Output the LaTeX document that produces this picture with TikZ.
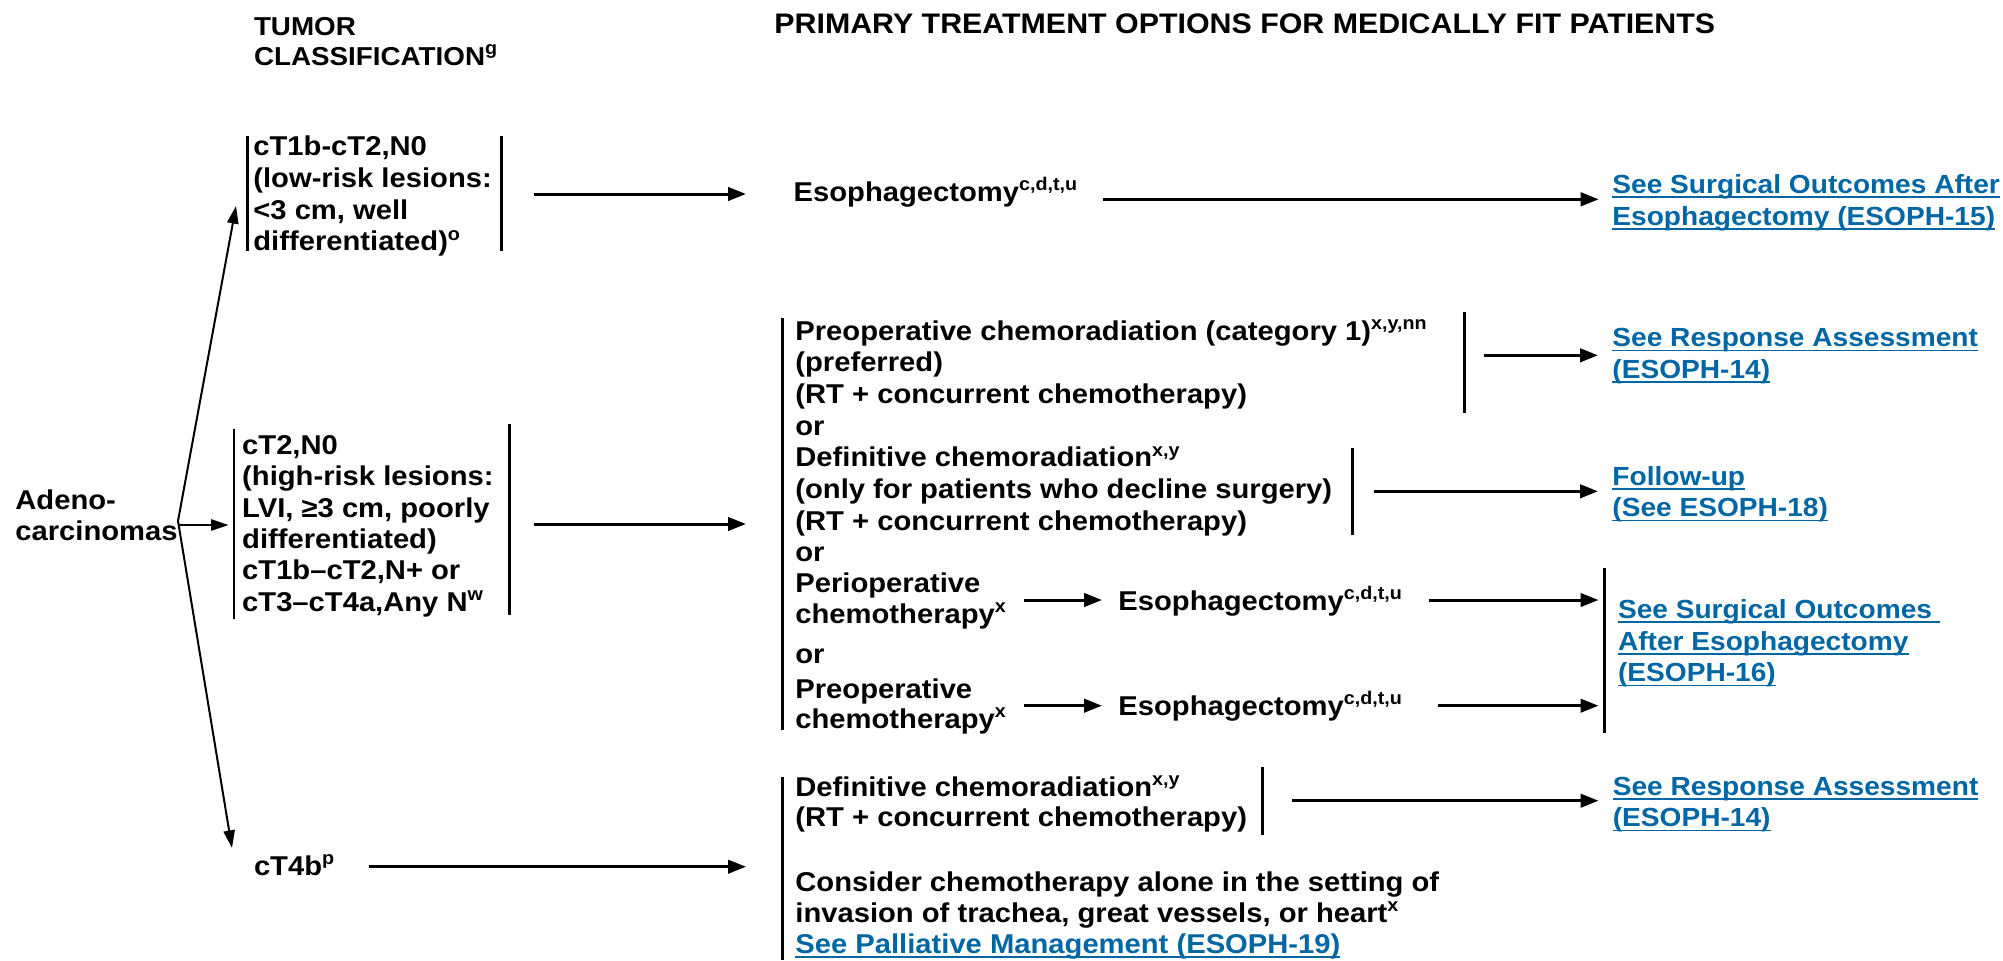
\documentclass[tikz,border=0pt]{standalone}
\usepackage{fontspec}
\setmainfont{Liberation Sans}[FakeStretch=1.073]
\usetikzlibrary{arrows.meta}
\definecolor{linkblue}{RGB}{0,102,164}
\newcommand\bodyfont{\fontsize{13.6}{15.85}\selectfont\bfseries}
\newcommand\linkfont{\fontsize{13.1}{15.85}\selectfont\bfseries}
\newcommand\sps[1]{\smash{\raisebox{5.4pt}{\fontsize{9.2}{9.2}\selectfont #1}}}
\newcommand\mlines[2][1]{{\renewcommand\arraystretch{#1}\begin{tabular}[t]{@{}l@{}}#2\end{tabular}}}
\newcommand\ulink[1]{\setbox0=\hbox{#1}\rlap{\rule[-2.3pt]{\wd0}{0.9pt}}\box0}
\begin{document}
\begin{tikzpicture}[x=0.5pt,y=-0.5pt,
  every node/.style={inner sep=0pt,anchor=base west,font=\bodyfont},
  link/.style={text=linkblue,font=\linkfont},
  bar/.style={line width=1.4pt},
  arr/.style={line width=1.5pt,-{Triangle[length=9pt,width=6.7pt]}},
  thin/.style={line width=1pt,-{Triangle[length=8.8pt,width=5.6pt]}}]
\useasboundingbox (0,0) rectangle (2003,960);
% headings
\node (hTum) at (253.6,35) {\fontsize{12.95}{15}\selectfont\mlines{TUMOR\\CLASSIFICATION\sps{g}}};
\node (hPrim) at (774,33.3) {\fontsize{14.15}{15}\selectfont PRIMARY TREATMENT OPTIONS FOR MEDICALLY FIT PATIENTS};
% left column
\node (adeno) at (15,509.8) {\mlines[0.978]{Adeno-\\carcinomas}};
\node (b1) at (253,155.8) {\mlines{cT1b-cT2,N0\\(low-risk lesions:\\<3 cm, well\\differentiated)\sps{o}}};
\node (b2) at (241.8,454.7) {\mlines[0.987]{cT2,N0\\(high-risk lesions:\\LVI, ≥3 cm, poorly\\differentiated)\\cT1b–cT2,N+ or\\cT3–cT4a,Any N\sps{w}}};
\node (c4) at (253.6,875) {cT4b\sps{p}};
% middle column
\node (eso1) at (793.3,201.7) {Esophagectomy\sps{c,d,t,u}};
\node (mid) at (795,340) {\mlines{Preoperative chemoradiation (category 1)\sps{x,y,nn}\\(preferred)\\(RT + concurrent chemotherapy)\\or\\Definitive chemoradiation\sps{x,y}\\(only for patients who decline surgery)\\(RT + concurrent chemotherapy)\\or}};
\node (peri) at (795,592.7) {\mlines[0.965]{Perioperative\\chemotherapy\sps{x}}};
\node (or3) at (795,663.3) {or};
\node (preo) at (795,698.3) {\mlines[0.946]{Preoperative\\chemotherapy\sps{x}}};
\node (eso2) at (1118,610) {Esophagectomy\sps{c,d,t,u}};
\node (eso3) at (1118,715) {Esophagectomy\sps{c,d,t,u}};
\node (def2) at (795,796.7) {\mlines[0.946]{Definitive chemoradiation\sps{x,y}\\(RT + concurrent chemotherapy)}};
\node (cons) at (795,891.7) {\mlines[0.972]{Consider chemotherapy alone in the setting of\\invasion of trachea, great vessels, or heart\sps{x}\\\textcolor{linkblue}{\ulink{See Palliative Management (ESOPH-19)}}}};
% right column links
\node[link] (l15) at (1612,193.3) {\mlines{\ulink{See Surgical Outcomes After}\\\ulink{Esophagectomy (ESOPH-15)}}};
\node[link] (l14a) at (1612,346.7) {\mlines{\ulink{See Response Assessment}\\\ulink{(ESOPH-14)}}};
\node[link] (l18) at (1612,485) {\mlines{\ulink{Follow-up}\\\ulink{(See ESOPH-18)}}};
\node[link] (l16) at (1617.6,618.3) {\mlines{\ulink{See Surgical Outcomes\ }\\\ulink{After Esophagectomy}\\\ulink{(ESOPH-16)}}};
\node[link] (l14b) at (1612.4,795) {\mlines{\ulink{See Response Assessment}\\\ulink{(ESOPH-14)}}};
% bars
\draw[bar] (247.5,136) -- (247.5,251);
\draw[bar] (501.4,136) -- (501.4,251);
\draw[bar] (234,429) -- (234,619);
\draw[bar] (509.6,424) -- (509.6,615);
\draw[bar] (782.5,318) -- (782.5,730);
\draw[bar] (1464.7,312) -- (1464.7,413);
\draw[bar] (1352.6,448) -- (1352.6,535);
\draw[bar] (1604.5,568) -- (1604.5,733);
\draw[bar] (782.5,777) -- (782.5,960);
\draw[bar] (1262.4,767) -- (1262.4,835);
% connector end points
\coordinate (br) at (178,521);
\coordinate (br2) at (178,525);
\coordinate (t1) at (236,206);
\coordinate (t2) at (228.6,525);
\coordinate (t3) at (232,848);
\coordinate (a1s) at (534,194);   \coordinate (a1e) at (746,194);
\coordinate (b1s) at (1102.5,199.3); \coordinate (b1e) at (1598.7,199.3);
\coordinate (c1s) at (534,524);   \coordinate (c1e) at (746,524);
\coordinate (d1s) at (1484,355.3); \coordinate (d1e) at (1598,355.3);
\coordinate (e1s) at (1374,491.3); \coordinate (e1e) at (1598,491.3);
\coordinate (f1s) at (1024.4,600); \coordinate (f1e) at (1102,600);
\coordinate (g1s) at (1428.5,600); \coordinate (g1e) at (1598.5,600);
\coordinate (h1s) at (1024.4,705.7); \coordinate (h1e) at (1102,705.7);
\coordinate (i1s) at (1437.6,705.7); \coordinate (i1e) at (1598.5,705.7);
\coordinate (j1s) at (1292,800.7); \coordinate (j1e) at (1598.5,800.7);
\coordinate (k1s) at (369,866.7); \coordinate (k1e) at (746,866.7);
% connectors
\draw[thin] (br) -- (t1);
\draw[thin] (br2) -- (t2);
\draw[thin] (br) -- (t3);
\draw[arr] (a1s) -- (a1e);
\draw[arr] (b1s) -- (b1e);
\draw[arr] (c1s) -- (c1e);
\draw[arr] (d1s) -- (d1e);
\draw[arr] (e1s) -- (e1e);
\draw[arr] (f1s) -- (f1e);
\draw[arr] (g1s) -- (g1e);
\draw[arr] (h1s) -- (h1e);
\draw[arr] (i1s) -- (i1e);
\draw[arr] (j1s) -- (j1e);
\draw[arr] (k1s) -- (k1e);
\end{tikzpicture}
\end{document}
